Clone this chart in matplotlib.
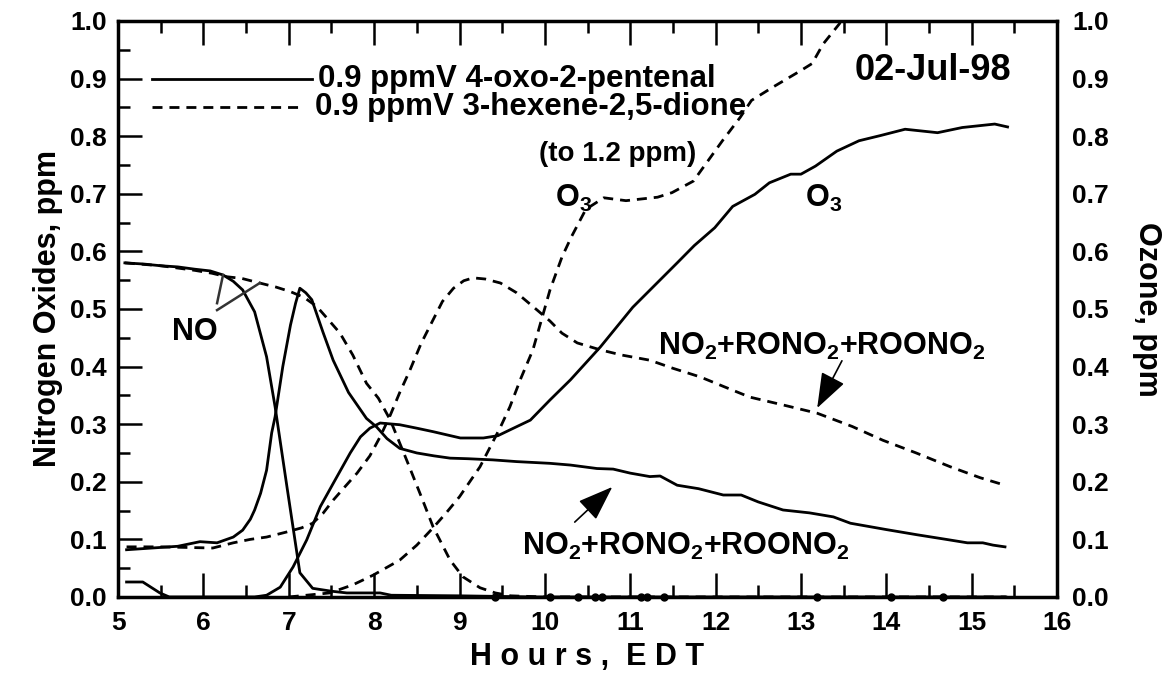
import numpy as np
import matplotlib
matplotlib.use("Agg")
from matplotlib import pyplot as plt

plt.rcParams['font.family'] = ['Liberation Sans', 'DejaVu Sans']
plt.rcParams['font.weight'] = 'bold'
plt.rcParams['axes.labelweight'] = 'bold'
plt.rcParams['mathtext.fontset'] = 'custom'
plt.rcParams['mathtext.rm'] = 'Liberation Sans:bold'
plt.rcParams['mathtext.it'] = 'Liberation Sans:bold'
plt.rcParams['mathtext.bf'] = 'Liberation Sans:bold'

# solid = 0.9 ppmV 4-oxo-2-pentenal, dashed = 0.9 ppmV 3-hexene-2,5-dione
no_s_t = [5.08, 5.3, 5.5, 5.7, 5.9, 6.08, 6.23, 6.35, 6.46, 6.6, 6.74, 6.84, 6.98, 7.13, 7.28, 7.5, 7.68, 8.07, 8.2, 9.0, 9.9, 15.4]
no_s = [0.58, 0.578, 0.575, 0.573, 0.569, 0.566, 0.559, 0.548, 0.533, 0.495, 0.417, 0.33, 0.19, 0.042, 0.015, 0.01, 0.007, 0.007, 0.003, 0.002, 0.0, 0.0]

no_d_t = [5.08, 5.5, 5.9, 6.1, 6.27, 6.45, 6.66, 6.85, 7.02, 7.18, 7.33, 7.46, 7.6, 7.75, 7.91, 8.05, 8.19, 8.38, 8.55, 8.69, 8.89, 9.04, 9.24, 9.42, 9.6, 10.0, 15.4]
no_d = [0.58, 0.575, 0.567, 0.562, 0.556, 0.553, 0.545, 0.538, 0.53, 0.52, 0.504, 0.482, 0.458, 0.42, 0.371, 0.345, 0.307, 0.238, 0.175, 0.122, 0.064, 0.035, 0.016, 0.007, 0.002, 0.0, 0.0]

noz_s_t = [5.1, 5.4, 5.7, 5.96, 6.16, 6.35, 6.46, 6.55, 6.6, 6.67, 6.74, 6.8, 6.84, 6.93, 7.02, 7.08, 7.13, 7.2, 7.27, 7.4, 7.52, 7.7, 7.91, 8.03, 8.15, 8.3, 8.5, 8.7, 8.89, 9.1, 9.39, 9.67, 10.06, 10.3, 10.61, 10.8, 11.0, 11.23, 11.35, 11.55, 11.8, 12.09, 12.3, 12.5, 12.79, 13.1, 13.38, 13.58, 14.0, 14.36, 14.7, 14.95, 15.13, 15.25, 15.39]
noz_s = [0.082, 0.085, 0.088, 0.096, 0.094, 0.104, 0.116, 0.135, 0.151, 0.18, 0.22, 0.285, 0.313, 0.4, 0.472, 0.51, 0.536, 0.528, 0.516, 0.46, 0.411, 0.355, 0.31, 0.295, 0.275, 0.258, 0.25, 0.245, 0.241, 0.24, 0.238, 0.235, 0.232, 0.229, 0.223, 0.222, 0.215, 0.209, 0.21, 0.194, 0.188, 0.177, 0.177, 0.165, 0.151, 0.146, 0.139, 0.128, 0.117, 0.108, 0.1, 0.094, 0.094, 0.09, 0.087]

noz_d_t = [5.1, 5.5, 5.8, 6.11, 6.35, 6.55, 6.74, 6.98, 7.15, 7.28, 7.4, 7.52, 7.65, 7.8, 7.95, 8.07, 8.19, 8.3, 8.42, 8.55, 8.69, 8.8, 8.93, 9.05, 9.16, 9.3, 9.48, 9.67, 9.91, 10.06, 10.2, 10.38, 10.65, 10.9, 11.23, 11.5, 11.82, 12.1, 12.4, 12.8, 13.19, 13.6, 13.96, 14.35, 14.75, 15.1, 15.39]
noz_d = [0.087, 0.087, 0.086, 0.085, 0.094, 0.1, 0.104, 0.113, 0.12, 0.128, 0.145, 0.168, 0.19, 0.215, 0.245, 0.278, 0.316, 0.355, 0.394, 0.44, 0.481, 0.513, 0.536, 0.549, 0.554, 0.552, 0.545, 0.528, 0.498, 0.479, 0.458, 0.441, 0.429, 0.42, 0.411, 0.397, 0.382, 0.365, 0.347, 0.333, 0.319, 0.296, 0.272, 0.25, 0.226, 0.207, 0.194]

o3_s_t = [5.1, 5.29, 5.49, 5.6, 6.6, 6.74, 6.9, 7.05, 7.21, 7.37, 7.52, 7.72, 7.84, 7.95, 8.07, 8.3, 8.5, 8.69, 9.01, 9.28, 9.45, 9.59, 9.83, 10.06, 10.3, 10.65, 11.03, 11.3, 11.55, 11.75, 11.99, 12.2, 12.46, 12.63, 12.88, 13.0, 13.17, 13.42, 13.68, 13.93, 14.22, 14.6, 14.89, 15.27, 15.42]
o3_s = [0.026, 0.026, 0.007, 0.0, 0.0, 0.003, 0.017, 0.052, 0.099, 0.157, 0.197, 0.25, 0.278, 0.293, 0.302, 0.299, 0.293, 0.287, 0.276, 0.276, 0.28, 0.29, 0.307, 0.342, 0.377, 0.434, 0.503, 0.543, 0.58, 0.61, 0.641, 0.678, 0.699, 0.719, 0.734, 0.734, 0.748, 0.774, 0.792, 0.801, 0.812, 0.806, 0.815, 0.821, 0.816]

o3_d_t = [7.0, 7.48, 7.75, 7.99, 8.3, 8.5, 8.69, 8.85, 9.0, 9.24, 9.48, 9.59, 9.72, 9.86, 10.06, 10.2, 10.31, 10.48, 10.69, 10.95, 11.32, 11.49, 11.74, 11.91, 12.08, 12.29, 12.42, 12.67, 13.0, 13.13, 13.26, 13.45, 13.6]
o3_d = [0.0, 0.007, 0.021, 0.038, 0.064, 0.09, 0.12, 0.147, 0.174, 0.226, 0.295, 0.33, 0.38, 0.429, 0.533, 0.59, 0.625, 0.673, 0.693, 0.688, 0.694, 0.702, 0.722, 0.757, 0.792, 0.833, 0.862, 0.885, 0.914, 0.926, 0.96, 0.995, 1.04]

zero_pts = [9.42, 10.06, 10.39, 10.59, 10.67, 11.13, 11.2, 11.4, 13.19, 14.06, 14.66]

fig = plt.figure(figsize=(11.71, 6.8), dpi=100)
ax = fig.add_axes([0.1008, 0.1221, 0.8019, 0.8471])

lw = 2.0
dash = (0, (3.6, 2.5))
ax.plot(no_s_t, no_s, 'k-', lw=lw)
ax.plot(noz_s_t, noz_s, 'k-', lw=lw)
ax.plot(o3_s_t, o3_s, 'k-', lw=lw)
ax.plot(no_d_t, no_d, color='k', ls=dash, lw=lw)
ax.plot(noz_d_t, noz_d, color='k', ls=dash, lw=lw)
ax.plot(o3_d_t, o3_d, color='k', ls=dash, lw=lw)
ax.plot(zero_pts, np.zeros(len(zero_pts)), 'ko', ms=5, clip_on=False, zorder=5)

# legend lines drawn by hand like the original
ax.plot([5.4, 7.27], [0.9, 0.9], 'k-', lw=lw)
ax.plot([5.4, 7.15], [0.851, 0.851], color='k', ls=dash, lw=lw)
ax.text(7.34, 0.886, '0.9 ppmV 4-oxo-2-pentenal', fontsize=22.5)
ax.text(7.31, 0.836, '0.9 ppmV 3-hexene-2,5-dione', fontsize=22.5)
ax.text(15.46, 0.897, '02-Jul-98', fontsize=26, ha='right')

ax.text(10.85, 0.757, '(to 1.2 ppm)', fontsize=20, ha='center')
ax.text(10.12, 0.678, 'O$_3$', fontsize=22)
ax.text(13.05, 0.678, 'O$_3$', fontsize=22)
ax.text(5.63, 0.446, 'NO', fontsize=22)
ax.plot([6.16, 6.23], [0.51, 0.559], color='#333333', lw=1.8)
ax.plot([6.16, 6.66], [0.498, 0.545], color='#333333', lw=1.8)

arrow = dict(arrowstyle='-|>,head_length=1.1,head_width=0.4', color='k', lw=1.2,
             mutation_scale=20, shrinkA=0, shrinkB=0)
ax.text(11.33, 0.42, 'NO$_2$+RONO$_2$+ROONO$_2$', fontsize=22)
ax.annotate('', xy=(13.19, 0.328), xytext=(13.48, 0.41), arrowprops=arrow)
ax.text(9.73, 0.073, 'NO$_2$+RONO$_2$+ROONO$_2$', fontsize=22)
ax.annotate('', xy=(10.79, 0.191), xytext=(10.35, 0.13), arrowprops=arrow)

ax.set_xlim(5, 16)
ax.set_ylim(0, 1.0)
ax.set_xticks(np.arange(5, 17, 1))
ax.set_xticks(np.arange(5.5, 16, 1), minor=True)
ax.set_yticks(np.arange(0, 1.01, 0.1))
ax.set_yticks(np.arange(0.05, 1.0, 0.1), minor=True)
ax.yaxis.set_major_formatter(matplotlib.ticker.FormatStrFormatter('%.1f'))
ax.tick_params(which='both', direction='in', top=True, right=True, width=1.8, labelsize=19)
ax.tick_params(which='major', length=17)
ax.tick_params(which='minor', length=8.6)
ax.tick_params(axis='x', pad=10)
ax.tick_params(axis='y', pad=8)
for s in ax.spines.values():
    s.set_linewidth(2.5)

ax2 = ax.twinx()
ax2.set_ylim(0, 1.0)
ax2.set_yticks(np.arange(0, 1.01, 0.1))
ax2.yaxis.set_major_formatter(matplotlib.ticker.FormatStrFormatter('%.1f'))
ax2.tick_params(direction='in', length=0, labelsize=19, pad=11)
ax2.set_ylabel('Ozone, ppm', fontsize=22, rotation=270, labelpad=38)

ax.set_ylabel('Nitrogen Oxides, ppm', fontsize=22, labelpad=5)
ax.set_xlabel('H o u r s ,  E D T', fontsize=22, labelpad=5)

fig.savefig('out.png', dpi=100)
